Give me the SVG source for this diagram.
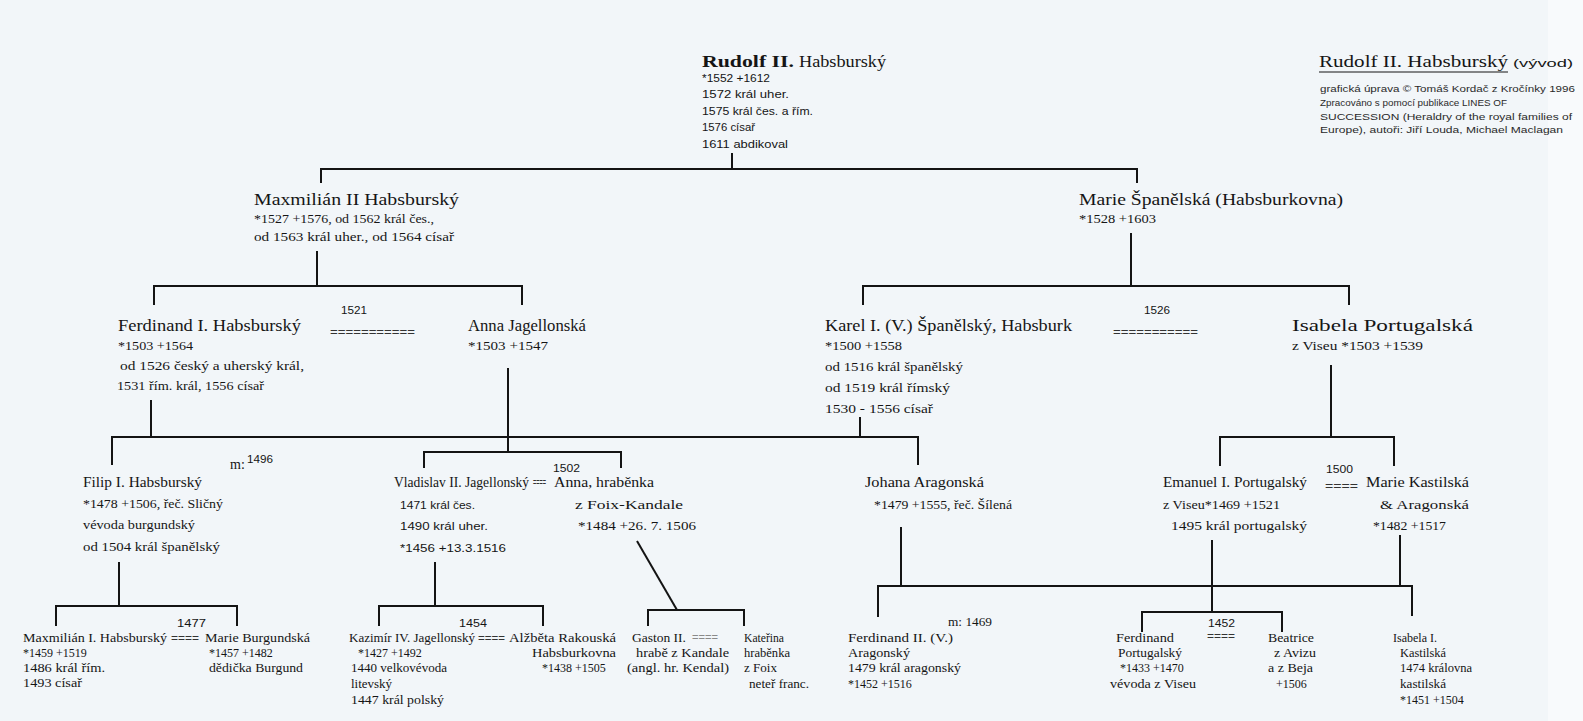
<svg xmlns="http://www.w3.org/2000/svg" width="1583" height="721" viewBox="0 0 1583 721">
<style>
text{fill:#151515}
.n{font-family:"Liberation Serif",serif;font-size:16px}
.d{font-family:"Liberation Serif",serif;font-size:13px}
.s{font-family:"Liberation Sans",sans-serif;font-size:10.5px}
.t{font-family:"Liberation Sans",sans-serif;font-size:9px;fill:#2a2a2a}
.n4{font-family:"Liberation Serif",serif;font-size:14px}
.d4{font-family:"Liberation Serif",serif;font-size:12.5px}
.n5{font-family:"Liberation Serif",serif;font-size:12px}
.g{font-family:"Liberation Serif",serif;font-size:12px}
.y{font-family:"Liberation Sans",sans-serif;font-size:11.5px}
.eq{font-family:"Liberation Sans",sans-serif;font-size:10px;fill:#333}
.c{fill:none;stroke:#141414;stroke-width:2}
</style>
<rect width="1583" height="721" fill="#f2f6f9"/>
<rect x="1548" y="0" width="35" height="721" fill="#f8fafc"/>
<g id="connectors">
<path class="c" d="M732 153V169"/>
<path class="c" d="M321 183V169H1137V183"/>
<path class="c" d="M317 251V286"/>
<path class="c" d="M154 305V286H522V305"/>
<path class="c" d="M1131 233V286"/>
<path class="c" d="M863 305V286H1349V305"/>
<path class="c" d="M151 400V437"/>
<path class="c" d="M860 417V437"/>
<path class="c" d="M112 465V437H918V465"/>
<path class="c" d="M508 368V452"/>
<path class="c" d="M424 468V452H621V468"/>
<path class="c" d="M1331 365V437"/>
<path class="c" d="M1220 466V437H1394V466"/>
<path class="c" d="M119 562V606"/>
<path class="c" d="M56 626V606H237V626"/>
<path class="c" d="M435 562V606"/>
<path class="c" d="M379 626V606H543V626"/>
<path class="c" d="M637 541L677 610"/>
<path class="c" d="M648 626V610H744V626"/>
<path class="c" d="M901 527V586"/>
<path class="c" d="M878 617V586H1412V616"/>
<path class="c" d="M1400 535V586"/>
<path class="c" d="M1212 540V612"/>
<path class="c" d="M1142 632V612H1282V632"/>
</g>
<g id="title">
<text class="n" x="1319" y="67" font-size="18" textLength="189" lengthAdjust="spacingAndGlyphs">Rudolf II. Habsburský</text>
<line x1="1319" y1="72" x2="1508" y2="72" stroke="#151515" stroke-width="1"/>
<text class="y" x="1513" y="67" font-size="13" textLength="60" lengthAdjust="spacingAndGlyphs">(vývod)</text>
<text class="t" x="1320" y="92" textLength="255" lengthAdjust="spacingAndGlyphs">grafická úprava © Tomáš Kordač z Kročínky 1996</text>
<text class="t" x="1320" y="106" textLength="187" lengthAdjust="spacingAndGlyphs">Zpracováno s pomocí publikace LINES OF</text>
<text class="t" x="1320" y="120" textLength="252" lengthAdjust="spacingAndGlyphs">SUCCESSION (Heraldry of the royal families of</text>
<text class="t" x="1320" y="133" textLength="243" lengthAdjust="spacingAndGlyphs">Europe), autoři: Jiří Louda, Michael Maclagan</text>
</g>
<g id="rudolf">
<text class="n" x="702" y="67" font-size="16.5" font-weight="bold" textLength="92" lengthAdjust="spacingAndGlyphs">Rudolf II.</text>
<text class="n" x="799" y="67" textLength="87" lengthAdjust="spacingAndGlyphs">Habsburský</text>
<text class="s" x="702" y="82" textLength="68" lengthAdjust="spacingAndGlyphs">*1552 +1612</text>
<text class="s" x="702" y="98" textLength="87" lengthAdjust="spacingAndGlyphs">1572 král uher.</text>
<text class="s" x="702" y="115" textLength="111" lengthAdjust="spacingAndGlyphs">1575 král čes. a řím.</text>
<text class="s" x="702" y="131" textLength="53" lengthAdjust="spacingAndGlyphs">1576 císař</text>
<text class="s" x="702" y="148" textLength="86" lengthAdjust="spacingAndGlyphs">1611 abdikoval</text>
</g>
<g id="maxmilian2">
<text class="n" x="254" y="205" textLength="205" lengthAdjust="spacingAndGlyphs">Maxmilián II Habsburský</text>
<text class="d" x="254" y="223" textLength="180" lengthAdjust="spacingAndGlyphs">*1527 +1576, od 1562 král čes.,</text>
<text class="d" x="254" y="241" textLength="200" lengthAdjust="spacingAndGlyphs">od 1563 král uher., od 1564 císař</text>
</g>
<g id="marie-spanelska">
<text class="n" x="1079" y="205" textLength="264" lengthAdjust="spacingAndGlyphs">Marie Španělská (Habsburkovna)</text>
<text class="d" x="1079" y="223" textLength="77" lengthAdjust="spacingAndGlyphs">*1528 +1603</text>
</g>
<g id="ferdinand1">
<text class="n" x="118" y="331" textLength="183" lengthAdjust="spacingAndGlyphs">Ferdinand I. Habsburský</text>
<text class="d" x="118" y="350" textLength="75" lengthAdjust="spacingAndGlyphs">*1503 +1564</text>
<text class="d" x="120" y="370" textLength="184" lengthAdjust="spacingAndGlyphs">od 1526 český a uherský král,</text>
<text class="d" x="117" y="390" textLength="147" lengthAdjust="spacingAndGlyphs">1531 řím. král, 1556 císař</text>
</g>
<g id="m1521">
<text class="y" x="341" y="314" textLength="26" lengthAdjust="spacingAndGlyphs">1521</text>
<text class="eq" x="330" y="336" textLength="85" lengthAdjust="spacingAndGlyphs">===========</text>
</g>
<g id="anna-jagellonska">
<text class="n" x="468" y="331" textLength="118" lengthAdjust="spacingAndGlyphs">Anna Jagellonská</text>
<text class="d" x="468" y="350" textLength="80" lengthAdjust="spacingAndGlyphs">*1503 +1547</text>
</g>
<g id="karel5">
<text class="n" x="825" y="331" textLength="247" lengthAdjust="spacingAndGlyphs">Karel I. (V.) Španělský, Habsburk</text>
<text class="d" x="825" y="350" textLength="77" lengthAdjust="spacingAndGlyphs">*1500 +1558</text>
<text class="d" x="825" y="371" textLength="138" lengthAdjust="spacingAndGlyphs">od 1516 král španělský</text>
<text class="d" x="825" y="392" textLength="125" lengthAdjust="spacingAndGlyphs">od 1519 král římský</text>
<text class="d" x="825" y="413" textLength="108" lengthAdjust="spacingAndGlyphs">1530 - 1556 císař</text>
</g>
<g id="m1526">
<text class="y" x="1144" y="314" textLength="26" lengthAdjust="spacingAndGlyphs">1526</text>
<text class="eq" x="1113" y="336" textLength="85" lengthAdjust="spacingAndGlyphs">===========</text>
</g>
<g id="isabela-portugalska">
<text class="n" x="1292" y="331" textLength="181" lengthAdjust="spacingAndGlyphs">Isabela Portugalská</text>
<text class="d" x="1292" y="350" textLength="131" lengthAdjust="spacingAndGlyphs">z Viseu *1503 +1539</text>
</g>
<g id="m1496">
<text class="n4" x="230" y="469">m:</text>
<text class="s" x="247" y="463" textLength="26" lengthAdjust="spacingAndGlyphs">1496</text>
</g>
<g id="filip1">
<text class="n4" x="83" y="487" textLength="119" lengthAdjust="spacingAndGlyphs">Filip I. Habsburský</text>
<text class="d4" x="83" y="508" textLength="140" lengthAdjust="spacingAndGlyphs">*1478 +1506, řeč. Sličný</text>
<text class="d4" x="83" y="529" textLength="112" lengthAdjust="spacingAndGlyphs">vévoda burgundský</text>
<text class="d4" x="83" y="551" textLength="137" lengthAdjust="spacingAndGlyphs">od 1504 král španělský</text>
</g>
<g id="vladislav2">
<text class="n4" x="394" y="487" textLength="135" lengthAdjust="spacingAndGlyphs">Vladislav II. Jagellonský</text>
<text class="s" x="400" y="509" textLength="75" lengthAdjust="spacingAndGlyphs">1471 král čes.</text>
<text class="s" x="400" y="530" textLength="88" lengthAdjust="spacingAndGlyphs">1490 král uher.</text>
<text class="s" x="400" y="552" textLength="106" lengthAdjust="spacingAndGlyphs">*1456 +13.3.1516</text>
</g>
<g id="m1502">
<text class="y" x="553" y="472" textLength="27" lengthAdjust="spacingAndGlyphs">1502</text>
<text class="eq" x="533" y="486" textLength="13" lengthAdjust="spacingAndGlyphs">====</text>
</g>
<g id="anna-foix">
<text class="n4" x="554" y="487" textLength="100" lengthAdjust="spacingAndGlyphs">Anna, hraběnka</text>
<text class="d4" x="575" y="509" textLength="108" lengthAdjust="spacingAndGlyphs">z Foix-Kandale</text>
<text class="d4" x="578" y="530" textLength="118" lengthAdjust="spacingAndGlyphs">*1484 +26. 7. 1506</text>
</g>
<g id="johana">
<text class="n4" x="865" y="487" textLength="119" lengthAdjust="spacingAndGlyphs">Johana Aragonská</text>
<text class="d4" x="874" y="509" textLength="138" lengthAdjust="spacingAndGlyphs">*1479 +1555, řeč. Šílená</text>
</g>
<g id="emanuel1">
<text class="n4" x="1163" y="487" textLength="144" lengthAdjust="spacingAndGlyphs">Emanuel I. Portugalský</text>
<text class="d4" x="1163" y="509" textLength="117" lengthAdjust="spacingAndGlyphs">z Viseu*1469 +1521</text>
<text class="d4" x="1171" y="530" textLength="136" lengthAdjust="spacingAndGlyphs">1495 král portugalský</text>
</g>
<g id="m1500">
<text class="y" x="1326" y="473" textLength="27" lengthAdjust="spacingAndGlyphs">1500</text>
<text class="eq" x="1325" y="490" textLength="33" lengthAdjust="spacingAndGlyphs">====</text>
</g>
<g id="marie-kastilska">
<text class="n4" x="1366" y="487" textLength="103" lengthAdjust="spacingAndGlyphs">Marie Kastilská</text>
<text class="d4" x="1380" y="509" textLength="89" lengthAdjust="spacingAndGlyphs">&amp; Aragonská</text>
<text class="d4" x="1373" y="530" textLength="73" lengthAdjust="spacingAndGlyphs">*1482 +1517</text>
</g>
<g id="m1477">
<text class="y" x="177" y="627" font-size="11" textLength="29" lengthAdjust="spacingAndGlyphs">1477</text>
<text class="eq" x="171" y="642" textLength="28" lengthAdjust="spacingAndGlyphs">====</text>
</g>
<g id="maxmilian1">
<text class="n5" x="23" y="642" textLength="144" lengthAdjust="spacingAndGlyphs">Maxmilián I. Habsburský</text>
<text class="g" x="23" y="657">*1459 +1519</text>
<text class="n5" x="23" y="672" textLength="82" lengthAdjust="spacingAndGlyphs">1486 král řím.</text>
<text class="n5" x="23" y="687" textLength="59" lengthAdjust="spacingAndGlyphs">1493 císař</text>
</g>
<g id="marie-burgundska">
<text class="n5" x="205" y="642" textLength="105" lengthAdjust="spacingAndGlyphs">Marie Burgundská</text>
<text class="g" x="209" y="657">*1457 +1482</text>
<text class="n5" x="209" y="672" textLength="94" lengthAdjust="spacingAndGlyphs">dědička Burgund</text>
</g>
<g id="m1454">
<text class="y" x="459" y="627" font-size="11" textLength="28" lengthAdjust="spacingAndGlyphs">1454</text>
<text class="eq" x="478" y="642" textLength="27" lengthAdjust="spacingAndGlyphs">====</text>
</g>
<g id="kazimir4">
<text class="n5" x="349" y="642" textLength="126" lengthAdjust="spacingAndGlyphs">Kazimír IV. Jagellonský</text>
<text class="g" x="358" y="657">*1427 +1492</text>
<text class="n5" x="351" y="672" textLength="96" lengthAdjust="spacingAndGlyphs">1440 velkovévoda</text>
<text class="n5" x="351" y="688" textLength="41" lengthAdjust="spacingAndGlyphs">litevský</text>
<text class="n5" x="351" y="704" textLength="93" lengthAdjust="spacingAndGlyphs">1447 král polský</text>
</g>
<g id="alzbeta">
<text class="n5" x="509" y="642" textLength="107" lengthAdjust="spacingAndGlyphs">Alžběta Rakouská</text>
<text class="n5" x="532" y="657" textLength="84" lengthAdjust="spacingAndGlyphs">Habsburkovna</text>
<text class="g" x="542" y="672">*1438 +1505</text>
</g>
<g id="gaston2">
<text class="n5" x="632" y="642" textLength="54" lengthAdjust="spacingAndGlyphs">Gaston II.</text>
<text class="n5" x="636" y="657" textLength="93" lengthAdjust="spacingAndGlyphs">hrabě z Kandale</text>
<text class="n5" x="627" y="672" textLength="102" lengthAdjust="spacingAndGlyphs">(angl. hr. Kendal)</text>
</g>
<text class="eq" id="m-gaston" x="692" y="641" textLength="26" lengthAdjust="spacingAndGlyphs" style="fill:#8a8a8a">====</text>
<g id="katerina">
<text class="n5" x="744" y="642" textLength="40" lengthAdjust="spacingAndGlyphs">Kateřina</text>
<text class="n5" x="744" y="657" textLength="46" lengthAdjust="spacingAndGlyphs">hraběnka</text>
<text class="n5" x="744" y="672" textLength="33" lengthAdjust="spacingAndGlyphs">z Foix</text>
<text class="n5" x="749" y="688" textLength="60" lengthAdjust="spacingAndGlyphs">neteř franc.</text>
</g>
<text class="n5" id="m1469" x="948" y="626" textLength="44" lengthAdjust="spacingAndGlyphs">m: 1469</text>
<g id="ferdinand2">
<text class="n5" x="848" y="642" textLength="105" lengthAdjust="spacingAndGlyphs">Ferdinand II. (V.)</text>
<text class="n5" x="848" y="657" textLength="62" lengthAdjust="spacingAndGlyphs">Aragonský</text>
<text class="n5" x="848" y="672" textLength="113" lengthAdjust="spacingAndGlyphs">1479 král aragonský</text>
<text class="g" x="848" y="688">*1452 +1516</text>
</g>
<g id="m1452">
<text class="y" x="1208" y="627" font-size="11" textLength="27" lengthAdjust="spacingAndGlyphs">1452</text>
<text class="eq" x="1207" y="640" textLength="28" lengthAdjust="spacingAndGlyphs">====</text>
</g>
<g id="ferdinand-portugalsky">
<text class="n5" x="1116" y="642" textLength="58" lengthAdjust="spacingAndGlyphs">Ferdinand</text>
<text class="n5" x="1118" y="657" textLength="64" lengthAdjust="spacingAndGlyphs">Portugalský</text>
<text class="g" x="1120" y="672">*1433 +1470</text>
<text class="n5" x="1110" y="688" textLength="86" lengthAdjust="spacingAndGlyphs">vévoda z Viseu</text>
</g>
<g id="beatrice">
<text class="n5" x="1268" y="642" textLength="46" lengthAdjust="spacingAndGlyphs">Beatrice</text>
<text class="n5" x="1274" y="657" textLength="42" lengthAdjust="spacingAndGlyphs">z Avizu</text>
<text class="n5" x="1268" y="672" textLength="45" lengthAdjust="spacingAndGlyphs">a z Beja</text>
<text class="g" x="1276" y="688">+1506</text>
</g>
<g id="isabela1">
<text class="n5" x="1393" y="642" textLength="44" lengthAdjust="spacingAndGlyphs">Isabela I.</text>
<text class="n5" x="1400" y="657" textLength="46" lengthAdjust="spacingAndGlyphs">Kastilská</text>
<text class="n5" x="1400" y="672" textLength="72" lengthAdjust="spacingAndGlyphs">1474 královna</text>
<text class="n5" x="1400" y="688" textLength="46" lengthAdjust="spacingAndGlyphs">kastilská</text>
<text class="g" x="1400" y="704">*1451 +1504</text>
</g>
</svg>
